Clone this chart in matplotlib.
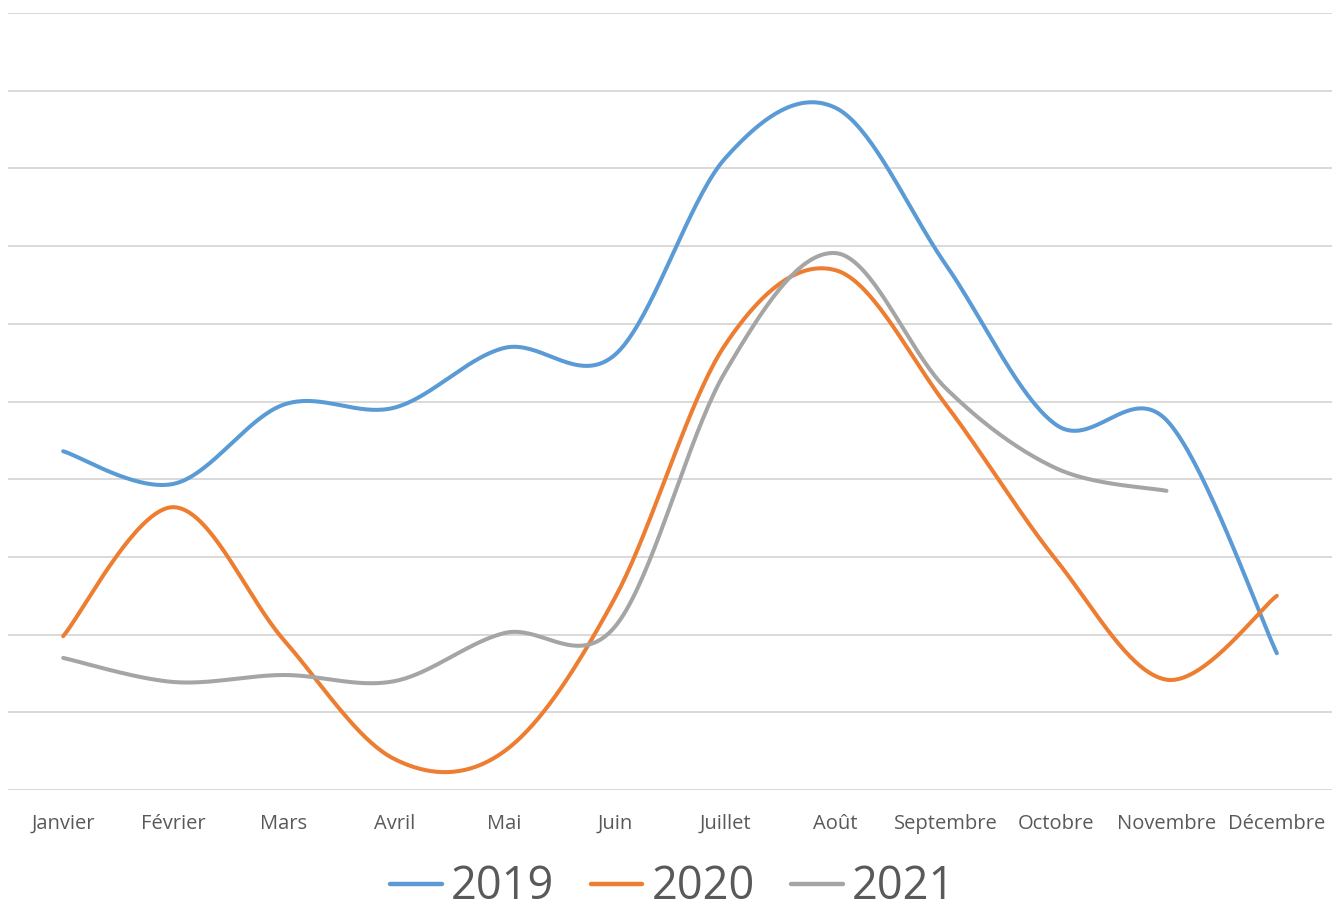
import numpy as np
import matplotlib.pyplot as plt

months = ['Janvier', 'Février', 'Mars', 'Avril', 'Mai', 'Juin', 'Juillet',
          'Août', 'Septembre', 'Octobre', 'Novembre', 'Décembre']
v2019 = [4.36, 3.94, 4.96, 4.92, 5.69, 5.60, 8.13, 8.78, 6.76, 4.70, 4.76, 1.76]
v2020 = [1.98, 3.64, 1.93, 0.40, 0.50, 2.47, 5.73, 6.69, 4.96, 2.96, 1.42, 2.50]
v2021 = [1.70, 1.39, 1.48, 1.40, 2.02, 2.10, 5.38, 6.91, 5.17, 4.14, 3.85]

colors = ['#5B9BD5', '#ED7D31', '#A5A5A5']


# excel-like smoothing: cubic bezier through the points
def smooth(xs, ys, n=40):
    xs = np.asarray(xs, float)
    ys = np.asarray(ys, float)
    px = np.concatenate([[xs[0]], xs, [xs[-1]]])
    py = np.concatenate([[ys[0]], ys, [ys[-1]]])
    outx, outy = [], []
    t = np.linspace(0, 1, n)
    for i in range(1, len(px) - 2):
        p0 = np.array([px[i], py[i]])
        p3 = np.array([px[i + 1], py[i + 1]])
        c1 = p0 + (np.array([px[i + 1], py[i + 1]]) - np.array([px[i - 1], py[i - 1]])) / 6
        c2 = p3 - (np.array([px[i + 2], py[i + 2]]) - np.array([px[i], py[i]])) / 6
        b = ((1 - t) ** 3)[:, None] * p0 + (3 * (1 - t) ** 2 * t)[:, None] * c1 \
            + (3 * (1 - t) * t ** 2)[:, None] * c2 + (t ** 3)[:, None] * p3
        outx.extend(b[:, 0])
        outy.extend(b[:, 1])
    return outx, outy


plt.rcParams['font.family'] = ['Open Sans', 'DejaVu Sans']

fig = plt.figure(figsize=(13.32, 9.11), dpi=100)
ax = fig.add_axes([8 / 1332, (911 - 790) / 911, 1324 / 1332, 777 / 911])

for vals, c, lab in zip([v2019, v2020, v2021], colors, ['2019', '2020', '2021']):
    x, y = smooth(range(len(vals)), vals)
    ax.plot(x, y, color=c, lw=2.9, solid_capstyle='round', label=lab, zorder=3)

ax.set_xlim(-0.5, 11.5)
ax.set_ylim(0, 10)
ax.set_yticks(range(11))
ax.set_yticklabels([])
ax.yaxis.grid(True, color='#D9D9D9', lw=1.4)
ax.set_xticks(range(12))
ax.set_xticklabels(months, fontsize=14.5, color='#595959')
ax.tick_params(axis='both', length=0)
ax.tick_params(axis='x', pad=17)
for s in ax.spines.values():
    s.set_visible(False)

leg = fig.legend(loc='center', bbox_to_anchor=(0.505, 0.026), ncol=3, frameon=False,
                 fontsize=32.5, handlelength=1.15, handletextpad=0.2, columnspacing=0.8,
                 borderpad=0.1)
for t in leg.get_texts():
    t.set_color('#595959')
for h in leg.legend_handles:
    h.set_linewidth(3.2)

fig.savefig('out.png', dpi=100)
